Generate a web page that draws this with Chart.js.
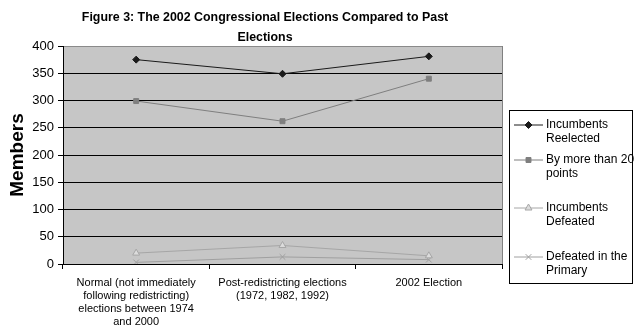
<!DOCTYPE html>
<html>
<head>
<meta charset="utf-8">
<script src="https://cdn.jsdelivr.net/npm/chart.js@4"></script>
<style>
  html, body { margin: 0; padding: 0; background: #fff; }
  #wrap { width: 634px; height: 328px; position: relative; }
</style>
</head>
<body>
<div id="wrap"><canvas id="chart" width="634" height="328"></canvas></div>
<script>
const categories = [
  ['Normal (not immediately', 'following redistricting)', 'elections between 1974', 'and 2000'],
  ['Post-redistricting elections', '(1972, 1982, 1992)'],
  ['2002 Election']
];
const reelected = [375, 349, 381];
const byMoreThan20 = [299, 262, 340];
const defeated = [20, 34, 15];
const defeatedPrimary = [3, 13, 8];

const titleLines = ['Figure 3: The 2002 Congressional Elections Compared to Past', 'Elections'];
const legendLabels = [
  ['Incumbents', 'Reelected'],
  ['By more than 20', 'points'],
  ['Incumbents', 'Defeated'],
  ['Defeated in the', 'Primary']
];

const FONT = '"Liberation Sans", Arial, sans-serif';

const series = [
  { label: legendLabels[0], data: reelected, color: '#1a1a1a', fill: '#1a1a1a', style: 'rectRot', r: 3.5 },
  { label: legendLabels[1], data: byMoreThan20, color: '#7f7f7f', fill: '#7f7f7f', style: 'rect', r: 3.5 },
  { label: legendLabels[2], data: defeated, color: '#a6a6a6', fill: '#dcdcdc', style: 'triangle', r: 4 },
  { label: legendLabels[3], data: defeatedPrimary, color: '#a0a0a0', fill: '#a0a0a0', style: 'crossRot', r: 4 }
];

// grey plot background + title + custom legend
const decor = {
  id: 'decor',
  beforeDraw(chart) {
    const { ctx, chartArea: a } = chart;
    ctx.save();
    ctx.fillStyle = '#c6c6c6';
    ctx.fillRect(a.left, a.top, a.right - a.left, a.bottom - a.top);
    ctx.restore();
  },
  afterDraw(chart) {
    const { ctx, chartArea: a } = chart;
    ctx.save();
    // right border of plot
    ctx.strokeStyle = '#808080';
    ctx.lineWidth = 1;
    ctx.beginPath();
    ctx.moveTo(a.right + 0.5, a.top);
    ctx.lineTo(a.right + 0.5, a.bottom);
    ctx.stroke();

    // title
    ctx.fillStyle = '#000';
    ctx.font = 'bold 12.4px ' + FONT;
    ctx.textAlign = 'center';
    ctx.textBaseline = 'middle';
    ctx.fillText(titleLines[0], 265, 18);
    ctx.fillText(titleLines[1], 265, 38);

    // legend box
    ctx.strokeStyle = '#000';
    ctx.strokeRect(509.5, 110.5, 123, 173);
    ctx.font = '12px ' + FONT;
    ctx.textAlign = 'left';
    const y0 = [125, 160, 208, 257];
    series.forEach((s, i) => {
      const y = y0[i];
      ctx.strokeStyle = s.color;
      ctx.lineWidth = 1;
      ctx.beginPath();
      ctx.moveTo(514, y);
      ctx.lineTo(543, y);
      ctx.stroke();
      ctx.fillStyle = s.fill;
      ctx.strokeStyle = s.color;
      Chart.helpers.drawPoint(ctx, { pointStyle: s.style, radius: s.r, rotation: 0, borderWidth: 1 }, 528.5, y);
      ctx.fillStyle = '#000';
      s.label.forEach((t, j) => ctx.fillText(t, 546, y + j * 14));
    });
    ctx.restore();
  }
};

new Chart(document.getElementById('chart'), {
  type: 'line',
  data: {
    labels: categories,
    datasets: series.map(s => ({
      label: s.label.join(' '),
      data: s.data,
      borderColor: s.color,
      backgroundColor: s.fill,
      borderWidth: 1,
      pointStyle: s.style,
      pointRadius: s.r,
      pointBorderColor: s.color,
      pointBackgroundColor: s.fill,
      pointBorderWidth: 1,
      tension: 0
    }))
  },
  options: {
    responsive: false,
    animation: false,
    devicePixelRatio: 1,
    layout: { padding: { top: 46, right: 132, left: 0, bottom: 0 } },
    plugins: { legend: { display: false }, title: { display: false }, tooltip: { enabled: false } },
    scales: {
      x: {
        offset: true,
        grid: { offset: true, drawOnChartArea: false, drawTicks: true, tickLength: 5, color: '#000' },
        border: { color: '#000' },
        ticks: { color: '#000', font: { family: FONT, size: 11 }, maxRotation: 0, autoSkip: false, padding: 7 },
        afterFit(scale) { scale.height = 64; }
      },
      y: {
        min: 0, max: 400,
        ticks: { stepSize: 50, color: '#000', font: { family: FONT, size: 13 }, padding: 4 },
        grid: {
          color: ctx => (ctx.tick && ctx.tick.value === 400 ? '#8a8a8a' : '#000'),
          tickColor: '#000',
          tickLength: 5
        },
        border: { color: '#000' },
        title: { display: true, text: 'Members', color: '#000', font: { family: FONT, size: 19, weight: 'bold' }, padding: { top: 6, bottom: 2 } },
        afterFit(scale) { scale.width = 63; }
      }
    }
  },
  plugins: [decor]
});
</script>
</body>
</html>
